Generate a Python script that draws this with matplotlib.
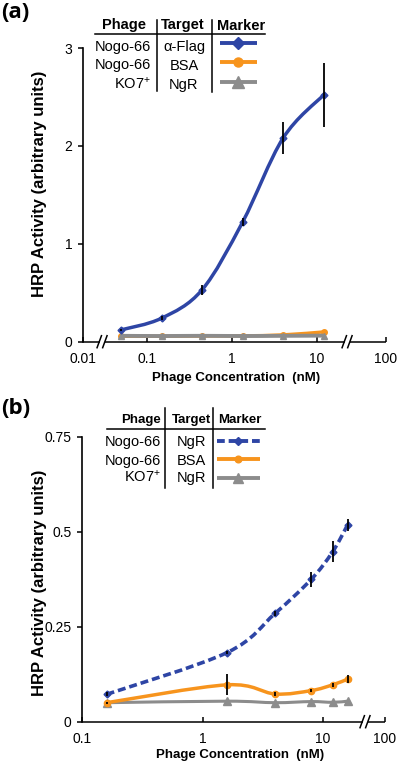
import numpy as np
import matplotlib
matplotlib.use("Agg")
import matplotlib.pyplot as plt
from matplotlib.path import Path
from matplotlib.patches import PathPatch
from matplotlib.lines import Line2D
from matplotlib.transforms import IdentityTransform

plt.rcParams['font.family'] = ['Liberation Sans', 'DejaVu Sans']
plt.rcParams['mathtext.fontset'] = 'custom'
plt.rcParams['mathtext.rm'] = 'Liberation Sans'
plt.rcParams['mathtext.it'] = 'Liberation Sans:italic'
plt.rcParams['mathtext.bf'] = 'Liberation Sans:bold'

# ---------------- data ----------------
# panel (a)
x_a = [0.049, 0.148, 0.444, 1.33, 4.0, 12.0]
blue_a = [0.12, 0.24, 0.53, 1.22, 2.08, 2.52]
blue_err_a = [0.01, 0.02, 0.05, 0.04, 0.16, 0.33]
orange_a = [0.055, 0.055, 0.058, 0.06, 0.07, 0.10]
gray_a = [0.06, 0.058, 0.06, 0.058, 0.06, 0.062]
xticks_a = [0.01, 0.1, 1, 10, 100]
xticklabels_a = ['0.01', '0.1', '1', '10', '100']
yticks_a = [0, 1, 2, 3]
yticklabels_a = ['0', '1', '2', '3']

# panel (b)
x_b = [0.16, 1.6, 4.0, 8.0, 12.0, 16.0]
blue_b = [0.072, 0.182, 0.285, 0.375, 0.447, 0.518]
blue_err_b = [0.005, 0.005, 0.006, 0.02, 0.028, 0.015]
orange_b = [0.05, 0.097, 0.073, 0.082, 0.097, 0.112]
orange_err_b = [0.003, 0.028, 0.005, 0.005, 0.005, 0.011]
gray_b = [0.05, 0.054, 0.05, 0.053, 0.051, 0.054]
xticks_b = [0.1, 1, 10, 100]
xticklabels_b = ['0.1', '1', '10', '100']
yticks_b = [0, 0.25, 0.5, 0.75]
yticklabels_b = ['0', '0.25', '0.5', '0.75']

legend_a = [("Nogo-66", "\u03b1-Flag"), ("Nogo-66", "BSA"), (r"KO7$^{+}$", "NgR")]
legend_b = [("Nogo-66", "NgR"), ("Nogo-66", "BSA"), (r"KO7$^{+}$", "NgR")]

BLUE = '#2E45A5'
ORANGE = '#F7941D'
GRAY = '#8C8C8C'

W, H = 400, 764
fig = plt.figure(figsize=(W / 100, H / 100), dpi=100)


def F(x, y):
    return x / W, 1 - y / H


def make_scale(lo, hi, klo, khi):
    def fwd(x):
        u = np.log10(np.clip(np.asarray(x, dtype=float), 1e-12, None))
        return np.where(u < lo, lo + (u - lo) * klo,
                        np.where(u > hi, hi + (u - hi) * khi, u))

    def inv(p):
        p = np.asarray(p, dtype=float)
        return 10 ** np.where(p < lo, lo + (p - lo) / klo,
                              np.where(p > hi, hi + (p - hi) / khi, p))
    return fwd, inv


def setup_axes(rect, scale, xlim, ylim, xt, xtl, yt, ytl):
    ax = fig.add_axes(rect)
    ax.set_xscale('function', functions=scale)
    ax.set_xlim(*xlim)
    ax.set_ylim(*ylim)
    ax.set_xticks(xt)
    ax.set_xticklabels(xtl)
    ax.set_yticks(yt)
    ax.set_yticklabels(ytl)
    ax.xaxis.set_minor_locator(matplotlib.ticker.NullLocator())
    ax.yaxis.set_minor_locator(matplotlib.ticker.NullLocator())
    for s in ['top', 'right', 'bottom']:
        ax.spines[s].set_visible(False)
    ax.spines['left'].set_linewidth(1.2)
    ax.tick_params(axis='x', direction='in', length=3.5, width=1.1, pad=7.5,
                   labelsize=10)
    ax.tick_params(axis='y', direction='out', length=3.5, width=1.1, pad=4,
                   labelsize=10)
    ax.patch.set_alpha(0)
    return ax


def smooth_line(ax, xs, ys, **kw):
    P = ax.transData.transform(np.column_stack([xs, ys]))
    n = len(P)
    verts = [P[0]]
    codes = [Path.MOVETO]
    for i in range(n - 1):
        p0 = P[i - 1] if i > 0 else P[i]
        p1 = P[i]
        p2 = P[i + 1]
        p3 = P[i + 2] if i + 2 < n else P[i + 1]
        c1 = p1 + (p2 - p0) / 6.0
        c2 = p2 - (p3 - p1) / 6.0
        verts += [c1, c2, p2]
        codes += [Path.CURVE4] * 3
    D = ax.transData.inverted().transform(np.array(verts))
    patch = PathPatch(Path(D, codes), fill=False, transform=ax.transData,
                      capstyle='butt', joinstyle='round', **kw)
    ax.add_patch(patch)


def broken_xaxis(ax, xmin, xmax, breaks):
    y0 = ax.transData.transform((xmin, 0))[1]
    xs = ax.transData.transform(np.column_stack([[xmin, xmax], [0, 0]]))[:, 0]
    bx = sorted(ax.transData.transform((b, 0))[0] for b in breaks)
    segs = []
    start = xs[0]
    for b in bx:
        segs.append((start, b - 2.5))
        start = b + 2.5
    segs.append((start, xs[1]))
    for a, b in segs:
        fig.add_artist(Line2D([a, b], [y0, y0], color='black', lw=1.1,
                              transform=IdentityTransform(), solid_capstyle='butt'))
    for b in bx:
        for d in (-2.8, 2.8):
            fig.add_artist(Line2D([b + d - 2.2, b + d + 2.2], [y0 - 6, y0 + 6],
                                  color='black', lw=1.1,
                                  transform=IdentityTransform()))


# ---------------- panel (a) ----------------
fwd_a, inv_a = make_scale(np.log10(0.04), np.log10(15), 0.6, 0.775)
l, b = F(82.7, 341.7)
ax1 = setup_axes([l, b, 303.3 / W, 293.7 / H], (fwd_a, inv_a), (0.01, 100), (0, 3),
                 xticks_a, xticklabels_a, yticks_a, yticklabels_a)

smooth_line(ax1, x_a, orange_a, color=ORANGE, lw=2.4, zorder=2)
ax1.plot(x_a, orange_a, ls='none', marker='o', ms=4, color=ORANGE, zorder=2.5)
smooth_line(ax1, x_a, gray_a, color=GRAY, lw=2.8, zorder=3)
ax1.plot(x_a, gray_a, ls='none', marker='^', ms=4.5, color=GRAY, zorder=3.5)
smooth_line(ax1, x_a, blue_a, color=BLUE, lw=2.5, zorder=4)
ax1.plot(x_a, blue_a, ls='none', marker='D', ms=3.5, color=BLUE, zorder=5)
ax1.errorbar(x_a, blue_a, yerr=blue_err_a, fmt='none', ecolor='black',
             elinewidth=1.3, capsize=0, zorder=6)
broken_xaxis(ax1, 0.01, 100, [0.024, 25.6])

# ---------------- panel (b) ----------------
fwd_b, inv_b = make_scale(-5, np.log10(20), 1.0, 0.305)
l, b = F(82, 721.7)
ax2 = setup_axes([l, b, 303 / W, 285 / H], (fwd_b, inv_b), (0.1, 100), (0, 0.75),
                 xticks_b, xticklabels_b, yticks_b, yticklabels_b)

smooth_line(ax2, x_b, gray_b, color=GRAY, lw=2.2, zorder=2)
smooth_line(ax2, x_b, orange_b, color=ORANGE, lw=2.5, zorder=3)
smooth_line(ax2, x_b, blue_b, color=BLUE, lw=2.6, ls=(0, (2.2, 1.1)), zorder=4)
ax2.plot(x_b, gray_b, ls='none', marker='^', ms=6, color=GRAY, zorder=5)
ax2.plot(x_b, orange_b, ls='none', marker='o', ms=4.5, color=ORANGE, zorder=5)
ax2.plot(x_b, blue_b, ls='none', marker='D', ms=3.5, color=BLUE, zorder=5)
ax2.errorbar(x_b, blue_b, yerr=blue_err_b, fmt='none', ecolor='black',
             elinewidth=1.3, capsize=0, zorder=6)
ax2.errorbar(x_b, orange_b, yerr=orange_err_b, fmt='none', ecolor='black',
             elinewidth=1.3, capsize=0, zorder=6)
broken_xaxis(ax2, 0.1, 100, [28.6])

# ---------------- labels ----------------
for (x, y), s in [((1, 12), '(a)'), ((1, 408), '(b)')]:
    fig.text(*F(x, y), s, fontsize=16, fontweight='bold', ha='left', va='center',
             family=['Open Sans', 'DejaVu Sans'])

for y in (183.5, 582.5):
    fig.text(*F(39.5, y), 'HRP Activity (arbitrary units)', rotation=90,
             fontsize=12, fontweight='bold', ha='center', va='center')
for x, y in ((236.5, 378), (240, 755)):
    fig.text(*F(x, y), 'Phage Concentration  (nM)', fontsize=9.5,
             fontweight='bold', ha='center', va='center')


def fig_line(x0, x1, y0, y1, **kw):
    fx0, fy0 = F(x0, y0)
    fx1, fy1 = F(x1, y1)
    fig.add_artist(Line2D([fx0, fx1], [fy0, fy1], transform=fig.transFigure, **kw))


# legend table (a)
fig.text(*F(124, 29.5), 'Phage', fontsize=10.5, fontweight='bold', ha='center', va='baseline')
fig.text(*F(183, 29.5), 'Target', fontsize=10.5, fontweight='bold', ha='center', va='baseline')
fig.text(*F(241, 29.5), 'Marker', fontsize=10.5, fontweight='bold', ha='center', va='baseline')
fig_line(95, 265, 33.5, 33.5, color='black', lw=1.1)
fig_line(157, 157, 20, 91, color='black', lw=1.1)
fig_line(212.3, 212.3, 20, 92, color='black', lw=1.1)
rows_a = [50.5, 69.5, 88.5]
mk_a = [43, 62, 81.5]
styles_a = [dict(color=BLUE, marker='D', ms=6.5, lw=2.8),
            dict(color=ORANGE, marker='o', ms=6.5, lw=2.8),
            dict(color=GRAY, marker='^', ms=8.5, lw=2.8)]
for (ph, tg), yb, ym, st in zip(legend_a, rows_a, mk_a, styles_a):
    fig.text(*F(151, yb), ph, fontsize=10.5, ha='right', va='baseline')
    fig.text(*F(184, yb), tg, fontsize=10.5, ha='center', va='baseline')
    fig_line(220, 257, ym, ym, color=st['color'], lw=st['lw'], solid_capstyle='butt')
    fx, fy = F(238.5, ym)
    fig.add_artist(Line2D([fx], [fy], transform=fig.transFigure, ls='none',
                          marker=st['marker'], ms=st['ms'], color=st['color']))

# legend table (b)
fig.text(*F(160.5, 423), 'Phage', fontsize=9.5, fontweight='bold', ha='right', va='baseline')
fig.text(*F(192, 423), 'Target', fontsize=9.5, fontweight='bold', ha='center', va='baseline')
fig.text(*F(240, 423), 'Marker', fontsize=9.5, fontweight='bold', ha='center', va='baseline')
fig_line(107, 265, 429.3, 429.3, color='black', lw=1.1)
fig_line(165, 165, 408, 488, color='black', lw=1.1)
fig_line(213.3, 213.3, 408, 488, color='black', lw=1.1)
rows_b = [445.7, 465, 481.7]
mk_b = [440.5, 459.3, 478]
styles_b = [dict(color=BLUE, marker='D', ms=4.2, lw=2.8, ls=(0, (2.0, 1.0))),
            dict(color=ORANGE, marker='o', ms=4.8, lw=2.8, ls='-'),
            dict(color=GRAY, marker='^', ms=6.5, lw=2.8, ls='-')]
for (ph, tg), yb, ym, st in zip(legend_b, rows_b, mk_b, styles_b):
    fig.text(*F(161, yb), ph, fontsize=10.5, ha='right', va='baseline')
    fig.text(*F(191.5, yb), tg, fontsize=10.5, ha='center', va='baseline')
    fig_line(217, 260, ym, ym, color=st['color'], lw=st['lw'], ls=st['ls'],
             solid_capstyle='butt', dash_capstyle='butt')
    fx, fy = F(238.5, ym)
    fig.add_artist(Line2D([fx], [fy], transform=fig.transFigure, ls='none',
                          marker=st['marker'], ms=st['ms'], color=st['color']))

fig.savefig('out.png', dpi=100)
